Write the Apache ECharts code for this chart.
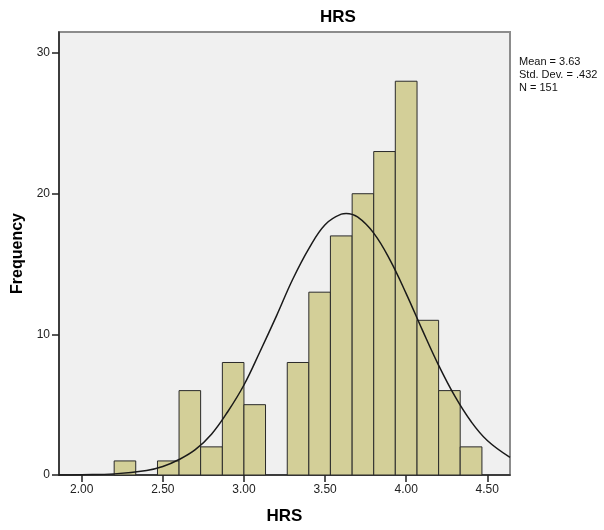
<!DOCTYPE html>
<html>
<head>
<meta charset="utf-8">
<script src="https://cdn.jsdelivr.net/npm/echarts@6/dist/echarts.min.js"></script>
<style>
html,body{margin:0;padding:0;background:#fff;}
#c{width:604px;height:530px;}
</style>
</head>
<body>
<div id="c"></div>
<script>
// Histogram bins (start, end) and frequencies
var binStarts = [2.200, 2.333, 2.467, 2.600, 2.733, 2.867, 3.000, 3.133, 3.267, 3.400, 3.533, 3.667, 3.800, 3.933, 4.067, 4.200, 4.333];
var binEnds   = [2.333, 2.467, 2.600, 2.733, 2.867, 3.000, 3.133, 3.267, 3.400, 3.533, 3.667, 3.800, 3.933, 4.067, 4.200, 4.333, 4.467];
var counts    = [1, 0, 1, 6, 2, 8, 5, 0, 8, 13, 17, 20, 23, 28, 11, 6, 2];

// Normal curve
var curveX = [1.86, 2.0, 2.2, 2.4, 2.5, 2.6, 2.7, 2.8, 2.9, 3.0, 3.1, 3.2, 3.3, 3.4, 3.5, 3.6, 3.63, 3.7, 3.8, 3.9, 4.0, 4.1, 4.2, 4.3, 4.4, 4.5, 4.64];
var curveY = [0.0, 0.02, 0.08, 0.32, 0.6, 1.1, 1.8, 2.9, 4.5, 6.4, 8.8, 11.3, 13.9, 16.1, 17.8, 18.55, 18.6, 18.35, 17.2, 15.3, 12.9, 10.3, 7.8, 5.6, 3.8, 2.45, 1.25];

var xTicks = [2.0, 2.5, 3.0, 3.5, 4.0, 4.5];
var yTicks = [0, 10, 20, 30];
var statsLines = ['Mean = 3.63', 'Std. Dev. = .432', 'N = 151'];
var titleText = 'HRS';
var xName = 'HRS';
var yName = 'Frequency';

var barData = [];
for (var i = 0; i < counts.length; i++) {
  if (counts[i] > 0) barData.push([binStarts[i], binEnds[i], counts[i]]);
}
var curveData = curveX.map(function (x, i) { return [x, curveY[i]]; });

var chart = echarts.init(document.getElementById('c'));
var font = 'Arial, "Liberation Sans", sans-serif';

var graphics = [{
  type: 'text', x: 338, y: 9,
  style: { text: titleText, fontFamily: font, fontSize: 17, fontWeight: 'bold', fill: '#000',
    textAlign: 'center', textVerticalAlign: 'top' }
}];
statsLines.forEach(function (t, i) {
  graphics.push({
    type: 'text', x: 519, y: 56 + i * 13,
    style: { text: t, fontFamily: font, fontSize: 11, fill: '#111', textVerticalAlign: 'top' }
  });
});

var option = {
  backgroundColor: '#ffffff',
  animation: false,
  grid: {
    left: 59, right: 94, top: 32, bottom: 52,
    show: true, backgroundColor: '#f0f0f0', borderColor: '#8c8c8c', borderWidth: 2
  },
  xAxis: {
    type: 'value', min: 1.86, max: 4.64,
    name: xName, nameLocation: 'middle', nameGap: 33,
    nameTextStyle: { fontFamily: font, fontSize: 17, fontWeight: 'bold', color: '#000' },
    axisLine: { show: true, lineStyle: { color: '#222', width: 1.5 } },
    axisTick: { show: true, length: 7, customValues: xTicks, lineStyle: { color: '#222', width: 1.5 } },
    axisLabel: { customValues: xTicks, fontFamily: font, fontSize: 12, color: '#222', margin: 9,
      formatter: function (v) { return v.toFixed(2); } },
    splitLine: { show: false }
  },
  yAxis: {
    type: 'value', min: 0, max: 31.5, interval: 10,
    name: yName, nameLocation: 'middle', nameGap: 33, nameRotate: 90,
    nameTextStyle: { fontFamily: font, fontSize: 16, fontWeight: 'bold', color: '#000' },
    axisLine: { show: true, lineStyle: { color: '#222', width: 1.5 } },
    axisTick: { show: true, length: 7, customValues: yTicks, lineStyle: { color: '#222', width: 1.5 } },
    axisLabel: { customValues: yTicks, fontFamily: font, fontSize: 12, color: '#222', margin: 9 },
    splitLine: { show: false }
  },
  series: [
    {
      type: 'custom',
      data: barData,
      encode: { x: [0, 1], y: 2 },
      renderItem: function (params, api) {
        var p0 = api.coord([api.value(0), api.value(2)]);
        var p1 = api.coord([api.value(1), 0]);
        return {
          type: 'rect',
          shape: { x: p0[0], y: p0[1], width: p1[0] - p0[0], height: p1[1] - p0[1] },
          style: { fill: '#d3cf98', stroke: '#2a2a2a', lineWidth: 1 }
        };
      },
      z: 2
    },
    {
      type: 'line',
      data: curveData,
      smooth: 0.4,
      showSymbol: false,
      symbol: 'none',
      clip: true,
      lineStyle: { color: '#1a1a1a', width: 1.5 },
      z: 3
    }
  ],
  graphic: graphics
};
chart.setOption(option);
</script>
</body>
</html>
